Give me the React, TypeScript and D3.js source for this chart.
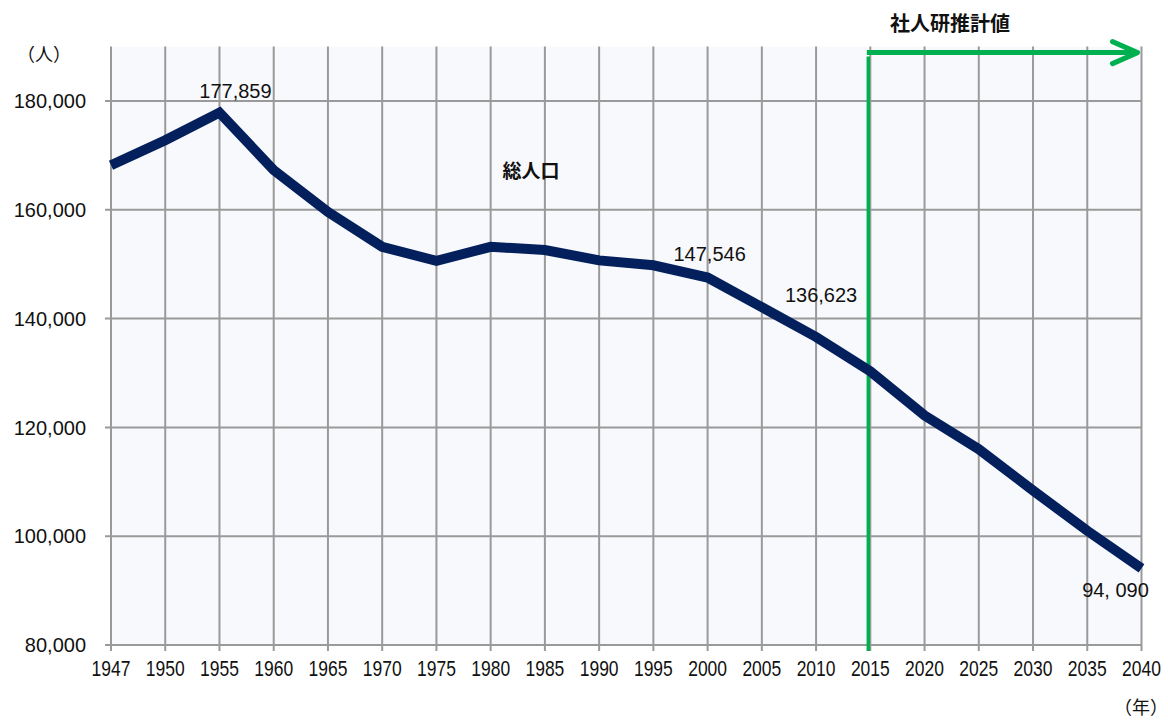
import React from 'react';
import * as d3 from 'd3';

// x categories (census years + projection years)
const years = ['1947', '1950', '1955', '1960', '1965', '1970', '1975', '1980', '1985', '1990',
  '1995', '2000', '2005', '2010', '2015', '2020', '2025', '2030', '2035', '2040'];

// total population (人)
const population = [168200, 172800, 177859, 167300, 159600, 153200, 150600, 153200, 152600, 150700,
  149800, 147546, 142100, 136623, 130300, 122200, 116000, 108400, 101000, 94090];

const yTicks = [80000, 100000, 120000, 140000, 160000, 180000];

// labelled points: [year, text, dx, dy]
const pointLabels: [string, string, number, number][] = [
  ['1955', '177,859', 16, -15],
  ['2000', '147,546', 2, -17],
  ['2010', '136,623', 5, -35],
  ['2040', '94, 090', -26, 29],
];

const seriesName = '総人口';
const projectionLabel = '社人研推計値';
const projectionStart = '2015';

const W = 1168;
const H = 720;

export default function App() {
  React.useEffect(() => {
    document.body.style.margin = '0';
  }, []);

  const x = d3.scalePoint<string>().domain(years).range([111, 1141.5]);
  const y = d3.scaleLinear().domain([80000, 190000]).range([645, 46.6]);
  const fmt = d3.format(',');

  const line = d3.line<number>()
    .x((_, i) => x(years[i])!)
    .y((d) => y(d));

  const [x0, x1] = x.range();
  const [yb, yt] = y.range();
  const gx = x(projectionStart)! - 2;
  const arrowY = yt + 6;
  const arrowEnd = x1 - 4;

  const sans = '"Liberation Sans", Arial, sans-serif';
  const cjk = '"Noto Sans CJK JP", sans-serif';

  return (
    <svg width={W} height={H} style={{ display: 'block', background: '#fff' }}>
      <rect x={x0} y={yt} width={x1 - x0} height={yb - yt} fill="#f8f9fc" />

      {/* grid */}
      <g stroke="#9a9a9a" strokeWidth={2}>
        {yTicks.map((t) => (
          <line key={t} x1={x0 - 6} x2={x1} y1={y(t)} y2={y(t)} />
        ))}
        {years.map((yr) => (
          <line key={yr} x1={x(yr)} x2={x(yr)} y1={yt} y2={yb + 6} />
        ))}
      </g>

      {/* y axis labels */}
      <g fontFamily={sans} fontSize={20} fill="#111" textAnchor="end">
        {yTicks.map((t) => (
          <text key={t} x={86} y={y(t)} dy="0.36em">{fmt(t)}</text>
        ))}
      </g>
      <text x={17} y={61} fontFamily={cjk} fontSize={18} fill="#111">（人）</text>

      {/* x axis labels: narrow, tall digits */}
      <g fontFamily={sans} fontSize={17.5} fill="#111" textAnchor="middle">
        {years.map((yr) => (
          <text key={yr} transform={`translate(${x(yr)},676) scale(1,1.28)`}>{yr}</text>
        ))}
      </g>
      <text x={1114} y={714} fontFamily={cjk} fontSize={18} fill="#111">（年）</text>

      {/* projection marker */}
      <line x1={gx} x2={gx} y1={arrowY + 4} y2={yb + 6} stroke="#00b050" strokeWidth={3.5} />
      <line x1={gx - 1.5} x2={arrowEnd} y1={arrowY} y2={arrowY} stroke="#00b050" strokeWidth={5} />
      <polyline
        points={`${arrowEnd - 25},${arrowY - 11} ${arrowEnd},${arrowY} ${arrowEnd - 25},${arrowY + 11}`}
        fill="none" stroke="#00b050" strokeWidth={5} strokeLinecap="round" strokeLinejoin="round"
      />
      <text x={950} y={31} fontFamily={cjk} fontWeight="bold" fontSize={20} fill="#111" textAnchor="middle">
        {projectionLabel}
      </text>

      {/* population line */}
      <path d={line(population)!} fill="none" stroke="#04205c" strokeWidth={10} strokeLinejoin="miter" />

      <text x={531} y={178} fontFamily={cjk} fontWeight="bold" fontSize={19} fill="#111" textAnchor="middle">
        {seriesName}
      </text>

      <g fontFamily={sans} fontSize={20} fill="#111" textAnchor="middle">
        {pointLabels.map(([yr, label, dx, dy]) => (
          <text key={yr} x={x(yr)! + dx} y={y(population[years.indexOf(yr)]) + dy}>{label}</text>
        ))}
      </g>
    </svg>
  );
}
